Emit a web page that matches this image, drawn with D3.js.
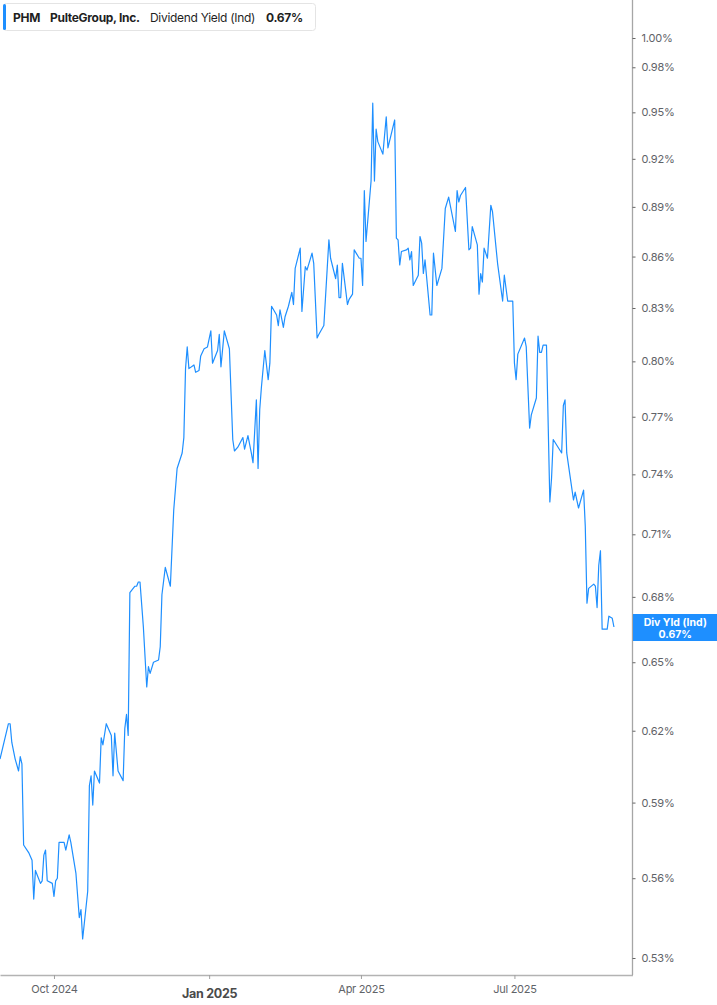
<!DOCTYPE html>
<html>
<head>
<meta charset="utf-8">
<script src="https://cdn.jsdelivr.net/npm/d3@7"></script>
<style>
  html, body { margin: 0; padding: 0; background: #fff; }
  svg { display: block; font-family: Inter, "Noto Sans", sans-serif; }
</style>
</head>
<body>
<div id="container"></div>
<script>
// series: trading days counted from 30 Aug 2024, dividend yield in %
const startDate = new Date(2024, 7, 30)
const endDate = new Date(2025, 8, 9)

const days = [
  0, 5, 6, 7, 9, 11, 12, 13, 14, 17,
  19, 20, 21, 24, 25, 26, 27, 28, 31, 32,
  33, 34, 35, 38, 39, 41, 42, 45, 47, 48,
  49, 52, 53, 54, 55, 56, 59, 60, 61, 63,
  66, 67, 68, 70, 73, 74, 75, 76, 77, 80,
  81, 82, 83, 85, 87, 88, 89, 91, 94, 95,
  96, 98, 101, 103, 105, 108, 109, 110, 111, 112,
  115, 116, 118, 119, 121, 123, 125, 126, 129, 130,
  131, 133, 136, 138, 139, 141, 144, 145, 147, 149,
  150, 152, 153, 154, 155, 157, 159, 160, 161, 164,
  165, 166, 168, 169, 171, 173, 174, 175, 178, 179,
  181, 182, 185, 186, 188, 189, 192, 194, 195, 196,
  199, 200, 201, 202, 203, 206, 207, 209, 210, 213,
  214, 215, 216, 217, 220, 221, 222, 223, 224, 227,
  229, 230, 234, 235, 236, 237, 238, 241, 242, 243,
  244, 245, 248, 249, 250, 251, 252, 255, 256, 257,
  259, 262, 264, 266, 270, 271, 272, 273, 276, 278,
  279, 280, 283, 284, 285, 286, 287, 289, 291, 292,
  295, 298, 299, 301, 304, 305, 306, 307, 311, 312,
  314, 315, 318, 319, 320, 321, 322, 324, 326, 327,
  328, 333, 334, 335, 336, 338, 340, 341, 343, 346,
  347, 348, 349, 352, 353, 354, 355, 356, 357, 360,
  361, 363, 364
]

const yieldPct = [
  0.608, 0.623, 0.623, 0.615, 0.608, 0.603, 0.609, 0.606, 0.573, 0.570,
  0.567, 0.552, 0.563, 0.558, 0.559, 0.569, 0.571, 0.559, 0.558, 0.553,
  0.559, 0.560, 0.574, 0.574, 0.571, 0.577, 0.574, 0.562, 0.545, 0.548,
  0.537, 0.555, 0.597, 0.601, 0.589, 0.603, 0.598, 0.617, 0.614, 0.623,
  0.618, 0.601, 0.619, 0.603, 0.599, 0.621, 0.627, 0.618, 0.682, 0.685,
  0.685, 0.687, 0.687, 0.666, 0.639, 0.648, 0.645, 0.650, 0.651, 0.657,
  0.681, 0.694, 0.685, 0.722, 0.743, 0.751, 0.759, 0.796, 0.808, 0.796,
  0.798, 0.794, 0.795, 0.803, 0.807, 0.808, 0.817, 0.799, 0.806, 0.815,
  0.797, 0.817, 0.807, 0.758, 0.752, 0.754, 0.759, 0.753, 0.760, 0.751,
  0.746, 0.779, 0.743, 0.774, 0.786, 0.806, 0.790, 0.799, 0.831, 0.826,
  0.820, 0.829, 0.819, 0.825, 0.831, 0.839, 0.832, 0.853, 0.865, 0.828,
  0.854, 0.852, 0.862, 0.856, 0.813, 0.815, 0.820, 0.853, 0.870, 0.859,
  0.847, 0.855, 0.836, 0.836, 0.856, 0.832, 0.835, 0.838, 0.864, 0.859,
  0.859, 0.843, 0.900, 0.869, 0.906, 0.956, 0.906, 0.939, 0.931, 0.923,
  0.947, 0.927, 0.945, 0.871, 0.870, 0.855, 0.863, 0.864, 0.865, 0.858,
  0.863, 0.843, 0.849, 0.872, 0.868, 0.850, 0.858, 0.826, 0.826, 0.862,
  0.843, 0.853, 0.889, 0.896, 0.875, 0.900, 0.893, 0.897, 0.902, 0.864,
  0.865, 0.878, 0.867, 0.838, 0.850, 0.845, 0.865, 0.859, 0.891, 0.887,
  0.856, 0.834, 0.849, 0.834, 0.834, 0.799, 0.790, 0.804, 0.813, 0.808,
  0.764, 0.771, 0.780, 0.814, 0.805, 0.805, 0.809, 0.809, 0.726, 0.738,
  0.758, 0.751, 0.776, 0.779, 0.751, 0.739, 0.727, 0.731, 0.723, 0.732,
  0.714, 0.677, 0.684, 0.686, 0.685, 0.675, 0.695, 0.702, 0.665, 0.665,
  0.671, 0.670, 0.666
]

const yTicks = [1.00, 0.98, 0.95, 0.92, 0.89, 0.86, 0.83, 0.80, 0.77, 0.74, 0.71, 0.68, 0.65, 0.62, 0.59, 0.56, 0.53]
const xTickDates = ["2024-10-01", "2025-01-01", "2025-04-01", "2025-07-01"]
const xTickLabels = ["Oct 2024", "Jan 2025", "Apr 2025", "Jul 2025"]

const ticker = "PHM"
const company = "PulteGroup, Inc."
const metric = "Dividend Yield (Ind)"
const lastLabel = "0.67%"
const calloutTitle = "Div Yld (Ind)"

const width = 717
const height = 1005
const plotRight = 632.5
const plotBottom = 975
const blue = "#1e8fff"

const data = days.map((d, i) => ({date: d3.timeDay.offset(startDate, d), v: yieldPct[i]}))

const svg = d3.create("svg")
    .attr("width", width)
    .attr("height", height)

const x = d3.scaleTime()
    .domain([startDate, endDate])
    .range([0, plotRight])

const y = d3.scaleLog()
    .domain([0.53, 1.00])
    .range([958, 38])

// x axis
const parse = d3.timeParse("%Y-%m-%d")
const xAxis = svg.append("g")
    .attr("transform", `translate(0, ${plotBottom})`)
    .call(d3.axisBottom(x)
        .tickValues(xTickDates.map(parse))
        .tickFormat((d, i) => xTickLabels[i])
        .tickSize(4)
        .tickSizeOuter(0)
        .tickPadding(6))

xAxis.select(".domain").attr("stroke", "#b3b3b3").attr("stroke-width", 1.6)
xAxis.selectAll(".tick line").attr("stroke", "#a0a0a0")
xAxis.selectAll(".tick text")
    .attr("fill", "#5f6368")
    .attr("font-size", 11)
    .attr("font-family", "Inter, sans-serif")
    .style("letter-spacing", "-0.3px")
xAxis.selectAll(".tick text")
    .filter((d, i) => i === 1)
    .attr("font-weight", "bold")
    .attr("font-size", 12.5)
    .attr("fill", "#4a4a4a")
    .attr("dy", "1.0em")

// y axis on the right
svg.append("line")
    .attr("x1", plotRight).attr("x2", plotRight)
    .attr("y1", 0).attr("y2", plotBottom)
    .attr("stroke", "#a6a6a6")
    .attr("stroke-width", 1.3)

const yAxis = svg.append("g")
    .attr("transform", `translate(${plotRight}, 0)`)
    .call(d3.axisRight(y)
        .tickValues(yTicks)
        .tickFormat(d => d.toFixed(2) + "%")
        .tickSize(3)
        .tickPadding(6))

yAxis.select(".domain").remove()
yAxis.selectAll(".tick line").attr("stroke", "#666")
yAxis.selectAll(".tick text")
    .attr("fill", "#5f6368")
    .attr("font-size", 11)
    .attr("font-family", "Inter, sans-serif")
    .style("letter-spacing", "-0.2px")

// the series
const line = d3.line()
    .x(d => x(d.date))
    .y(d => y(d.v))

svg.append("path")
    .datum(data)
    .attr("fill", "none")
    .attr("stroke", blue)
    .attr("stroke-width", 1.2)
    .attr("stroke-linejoin", "round")
    .attr("d", line)

// last value callout
const last = data[data.length - 1]
const callout = svg.append("g")
    .attr("transform", `translate(${plotRight + 0.5}, ${y(last.v) - 13})`)

callout.append("rect")
    .attr("width", width - plotRight)
    .attr("height", 27)
    .attr("fill", blue)

callout.append("text")
    .attr("x", (width - plotRight) / 2)
    .attr("y", 11.5)
    .attr("text-anchor", "middle")
    .attr("fill", "#fff")
    .attr("font-size", 10.5)
    .attr("font-weight", "bold")
    .text(calloutTitle)

callout.append("text")
    .attr("x", (width - plotRight) / 2)
    .attr("y", 23.5)
    .attr("text-anchor", "middle")
    .attr("fill", "#fff")
    .attr("font-size", 10.5)
    .attr("font-weight", "bold")
    .text(lastLabel)

// legend box, top left
const legend = svg.append("g")

legend.append("rect")
    .attr("x", 3.5).attr("y", 3.5)
    .attr("width", 312).attr("height", 27)
    .attr("rx", 3)
    .attr("fill", "#fff")
    .attr("stroke", "#e4e4e4")

legend.append("rect")
    .attr("x", 3).attr("y", 4)
    .attr("width", 3).attr("height", 26)
    .attr("rx", 1.5)
    .attr("fill", blue)

const legendText = legend.append("text")
    .attr("y", 21.5)
    .attr("font-size", 12)
    .attr("fill", "#1f1f1f")
    .style("letter-spacing", "-0.3px")

legendText.append("tspan").attr("x", 13).attr("font-weight", "bold").text(ticker)
legendText.append("tspan").attr("x", 50).attr("font-weight", "bold").text(company)
legendText.append("tspan").attr("x", 150).text(metric)
legendText.append("tspan").attr("x", 266).attr("font-weight", "bold").text(lastLabel)

document.querySelector("#container").appendChild(svg.node())
</script>
</body>
</html>
